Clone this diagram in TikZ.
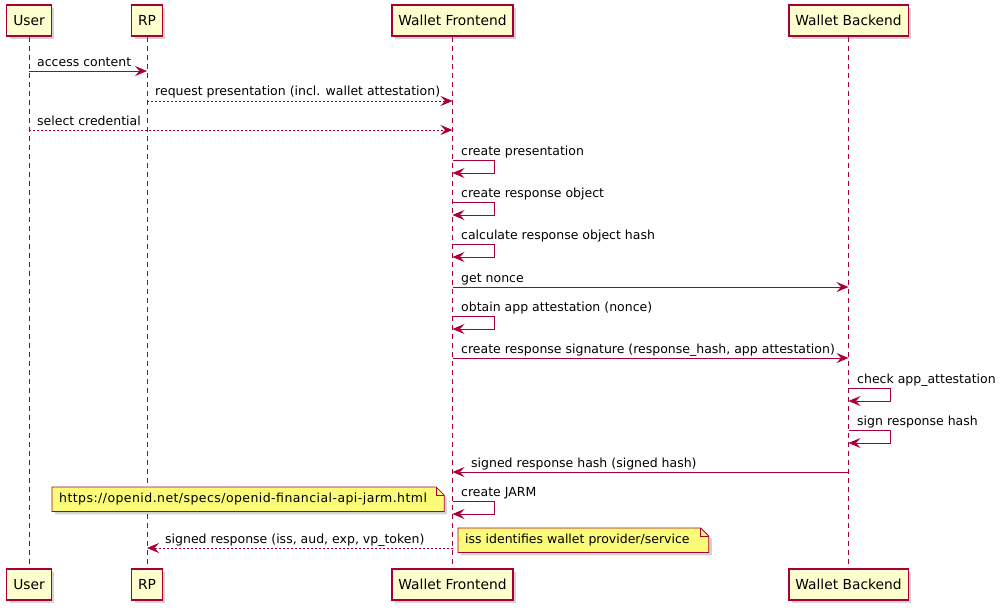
\documentclass[tikz,border=0pt]{standalone}
\usepackage{fontspec}
\setmainfont{DejaVu Sans}
\usetikzlibrary{arrows.meta,backgrounds,calc,shadows}
\definecolor{pborder}{HTML}{A80036}
\definecolor{pfill}{HTML}{FEFECE}
\definecolor{nfill}{HTML}{FBFB77}
\begin{document}
\begin{tikzpicture}[x=1pt,y=-1pt,
  part/.style={draw=pborder,fill=pfill,line width=1.2pt,minimum height=31pt,inner xsep=6.5pt,
    font=\fontsize{13.8}{15}\selectfont,
    drop shadow={shadow xshift=3pt,shadow yshift=-3pt,opacity=0.35,fill=black!50}},
  lifeline/.style={draw=pborder,line width=0.8pt,dash pattern=on 5pt off 4pt},
  msg/.style={draw=pborder,line width=0.9pt,-{Stealth[length=12pt,width=10pt,inset=4.5pt]}},
  rmsg/.style={msg,dash pattern=on 2pt off 2pt},
  lbl/.style={font=\fontsize{12.5}{14}\selectfont,anchor=base west,inner sep=0pt,text=black},
  notetext/.style={font=\fontsize{12.5}{14}\selectfont,anchor=north west,inner xsep=7pt,inner ysep=0pt,minimum height=24pt},
  notebox/.style={draw=pborder,fill=nfill,line width=0.8pt,line join=miter}
]
\useasboundingbox (0,0) rectangle (1000,614);
% participants
\node[part] (uT)  at (29,20.5)  {User};
\node[part] (rpT) at (147,20.5) {RP};
\node[part] (wfT) at (452.5,20.5) {Wallet Frontend};
\node[part] (wbT) at (848.5,20.5) {Wallet Backend};
\node[part] (uB)  at (29,584.5)  {User};
\node[part] (rpB) at (147,584.5) {RP};
\node[part] (wfB) at (452.5,584.5) {Wallet Frontend};
\node[part] (wbB) at (848.5,584.5) {Wallet Backend};
% lifelines
\begin{scope}[on background layer]
\draw[lifeline] (uT) -- (uB);
\draw[lifeline] (rpT) -- (rpB);
\draw[lifeline] (wfT) -- (wfB);
\draw[lifeline] (wbT) -- (wbB);
\end{scope}
% messages
\draw[msg] (uT.south |- 0,71) -- (rpT.south |- 0,71);
\node[lbl] (l1) at (37,66) {access content};
\draw[rmsg] (rpT.south |- 0,101) -- (wfT.south |- 0,101);
\node[lbl] (l2) at (155,95) {request presentation (incl. wallet attestation)};
\draw[rmsg] (uT.south |- 0,130) -- (wfT.south |- 0,130);
\node[lbl] (l3) at (37,125) {select credential};
% self loops frontend
\draw[msg] (wfT.south |- 0,160) -- ++(42,0) -- ++(0,13) -- (wfT.south |- 0,173);
\node[lbl] (l4) at (461,155) {create presentation};
\draw[msg] (wfT.south |- 0,202) -- ++(42,0) -- ++(0,13) -- (wfT.south |- 0,215);
\node[lbl] (l5) at (461,197) {create response object};
\draw[msg] (wfT.south |- 0,244) -- ++(42,0) -- ++(0,13) -- (wfT.south |- 0,257);
\node[lbl] (l6) at (461,239) {calculate response object hash};
\draw[msg] (wfT.south |- 0,287) -- (wbT.south |- 0,287);
\node[lbl] (l7) at (461,282) {get nonce};
\draw[msg] (wfT.south |- 0,316) -- ++(42,0) -- ++(0,13) -- (wfT.south |- 0,329);
\node[lbl] (l8) at (461,311) {obtain app attestation (nonce)};
\draw[msg] (wfT.south |- 0,358) -- (wbT.south |- 0,358);
\node[lbl] (l9) at (461,353) {create response signature (response\_hash, app attestation)};
% backend loops
\draw[msg] (wbT.south |- 0,388) -- ++(42,0) -- ++(0,13) -- (wbT.south |- 0,401);
\node[lbl] (l10) at (857,383) {check app\_attestation};
\draw[msg] (wbT.south |- 0,430) -- ++(42,0) -- ++(0,13) -- (wbT.south |- 0,443);
\node[lbl] (l11) at (857,425) {sign response hash};
\draw[msg] (wbT.south |- 0,472) -- (wfT.south |- 0,472);
\node[lbl] (l12) at (471,467) {signed response hash (signed hash)};
\draw[msg] (wfT.south |- 0,501) -- ++(42,0) -- ++(0,13) -- (wfT.south |- 0,514);
\node[lbl] (l13) at (461,496) {create JARM};
\draw[rmsg] (wfT.south |- 0,548) -- (rpT.south |- 0,548);
\node[lbl] (l14) at (165,543) {signed response (iss, aud, exp, vp\_token)};
% notes
\node[notetext] (n1) at (52,487) {\addfontfeatures{LetterSpace=3.5}https://openid.net/specs/openid-financial-api-jarm.html\hspace*{10pt}};
\node[notetext] (n2) at (458,528) {iss identifies wallet provider/service\hspace*{12pt}};
\begin{scope}[on background layer]
\foreach \n in {n1,n2}{
  \fill[black!50,opacity=0.35] ($(\n.north west)+(3,3)$) -- ($(\n.north east)+(-5,3)$) -- ($(\n.north east)+(3,11)$) -- ($(\n.south east)+(3,3)$) -- ($(\n.south west)+(3,3)$) -- cycle;
  \draw[notebox] (\n.north west) -- ($(\n.north east)+(-8,0)$) -- ($(\n.north east)+(0,8)$) -- (\n.south east) -- (\n.south west) -- cycle;
  \draw[draw=pborder,line width=0.8pt] ($(\n.north east)+(-8,0)$) -- ($(\n.north east)+(-8,8)$) -- ($(\n.north east)+(0,8)$);
}
\end{scope}
\end{tikzpicture}
\end{document}
